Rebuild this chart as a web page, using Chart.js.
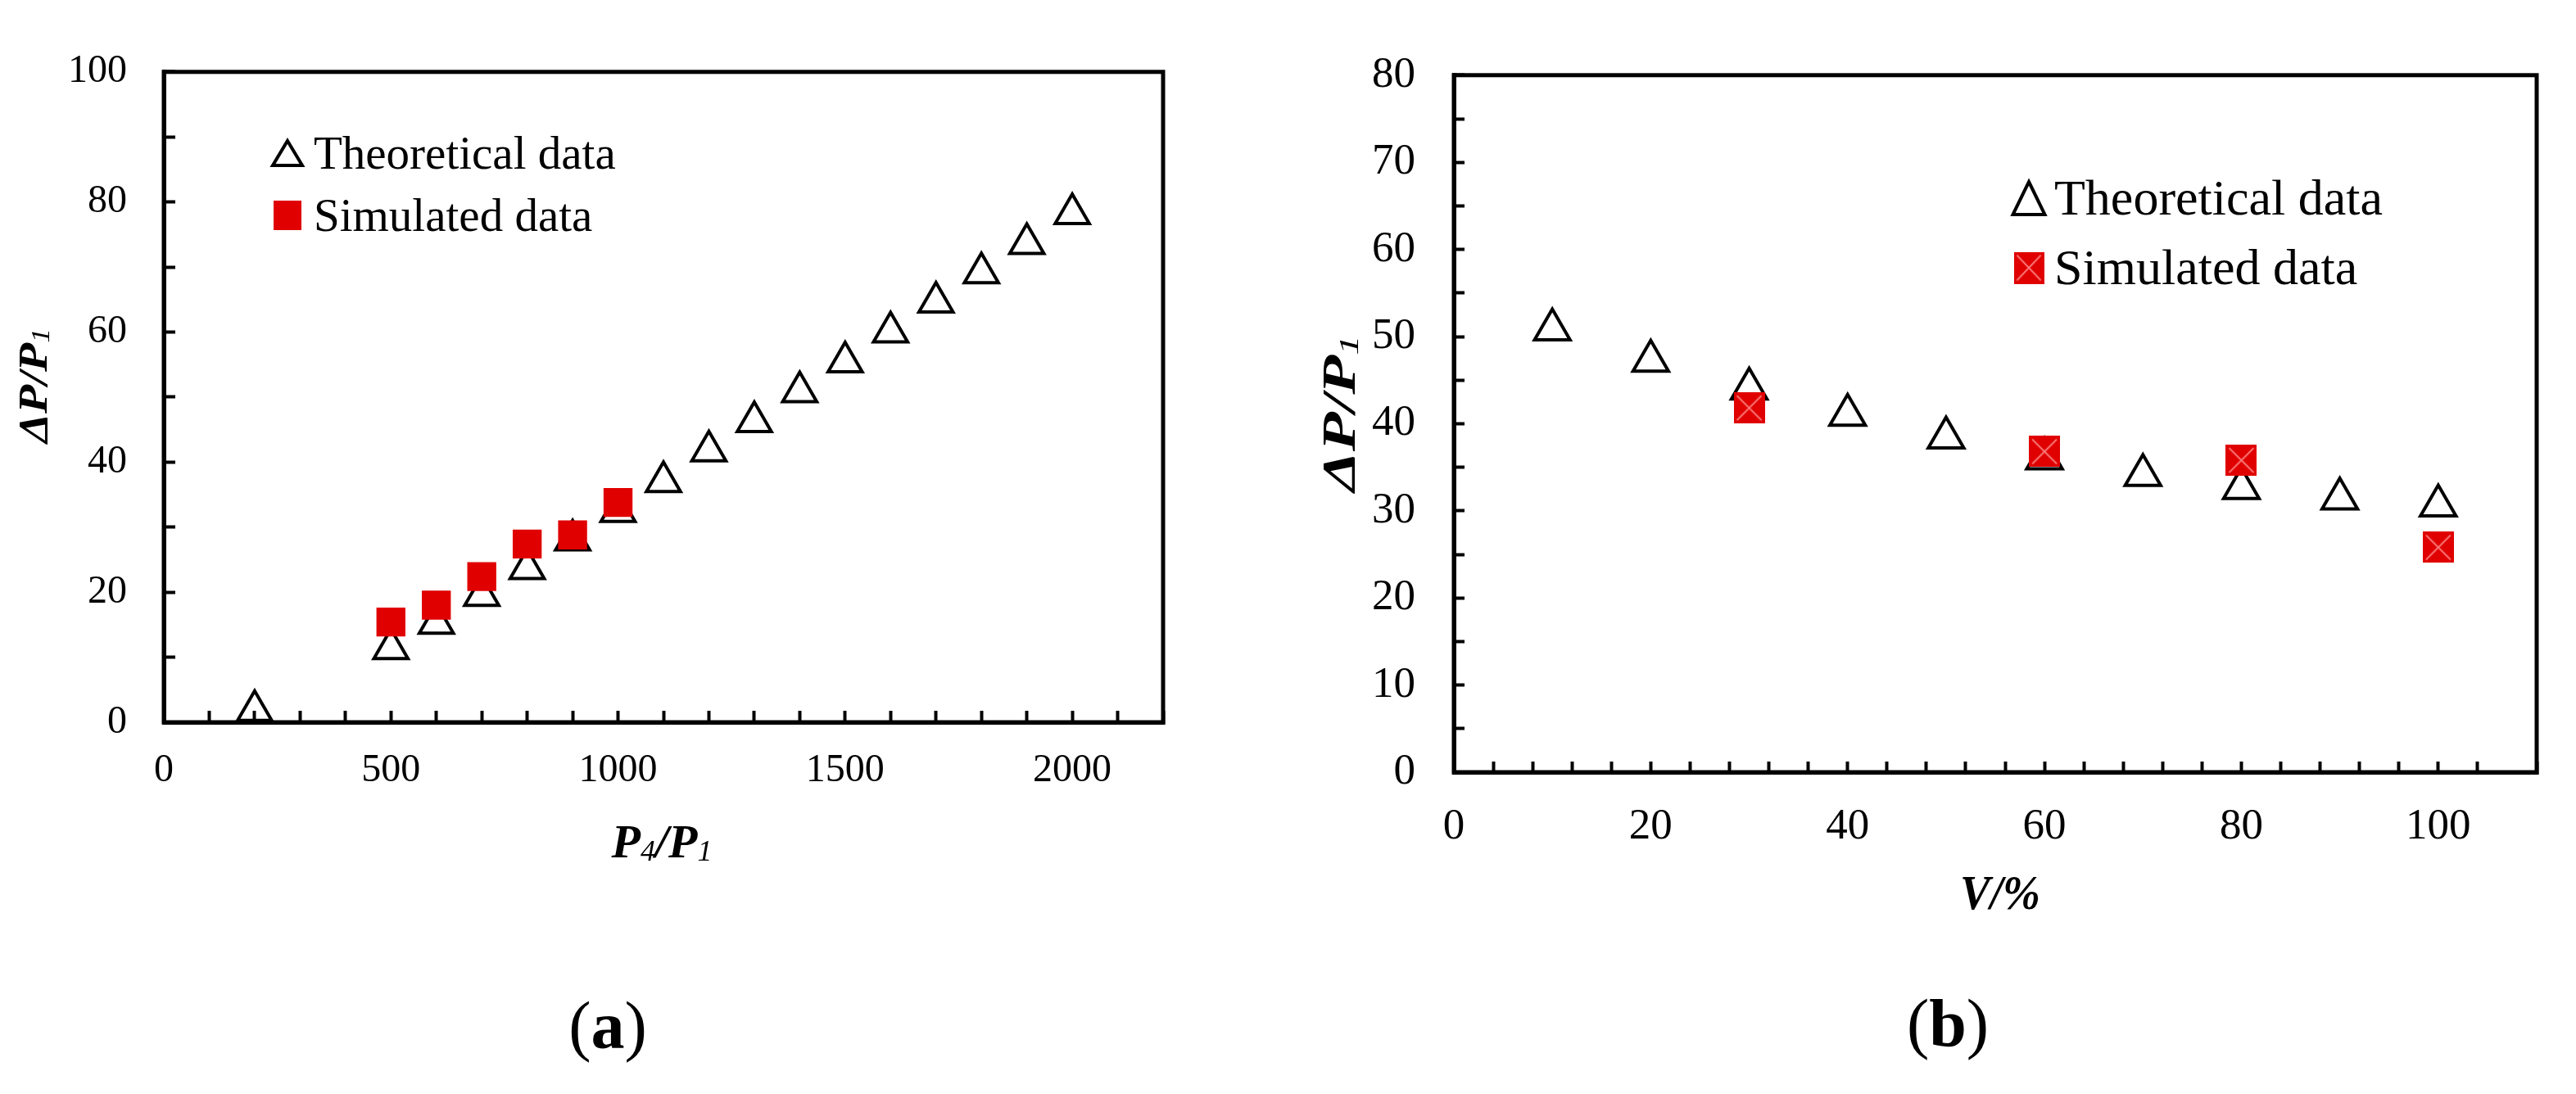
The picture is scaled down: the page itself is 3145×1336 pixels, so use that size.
<!DOCTYPE html>
<html>
<head>
<meta charset="utf-8">
<script src="https://cdn.jsdelivr.net/npm/chart.js@4.4.0/dist/chart.umd.min.js"></script>
<style>
html, body { margin: 0; padding: 0; background: #fff; }
body { width: 3145px; height: 1336px; position: relative; overflow: hidden; }
canvas { position: absolute; top: 0; }
#chartA { left: 0; }
#chartB { left: 1560px; }
</style>
</head>
<body>
<canvas id="chartA" width="1560" height="1336"></canvas>
<canvas id="chartB" width="1585" height="1336"></canvas>
<script>
// (a) pressure ratio
var ratioA = [200, 500, 600, 700, 800, 900, 1000, 1100, 1200, 1300, 1400, 1500, 1600, 1700, 1800, 1900, 2000];
var theoreticalA = [1.8, 11.3, 15.2, 19.5, 23.6, 28.0, 32.4, 37.0, 41.7, 46.2, 50.8, 55.4, 60.0, 64.6, 69.1, 73.6, 78.2];
var simRatioA = [500, 600, 700, 800, 900, 1000];
var simulatedA = [15.4, 18.0, 22.4, 27.4, 28.8, 33.8];
var xLabelsA = [0, 500, 1000, 1500, 2000];
var yLabelsA = [0, 20, 40, 60, 80, 100];

// (b) volume
var volumeB = [10, 20, 30, 40, 50, 60, 70, 80, 90, 100];
var theoreticalB = [50.8, 47.2, 44.0, 41.0, 38.4, 36.0, 34.1, 32.6, 31.4, 30.6];
var simVolumeB = [30, 60, 80, 100];
var simulatedB = [41.8, 36.8, 35.8, 25.8];
var xLabelsB = [0, 20, 40, 60, 80, 100];
var yLabelsB = [0, 10, 20, 30, 40, 50, 60, 70, 80];

var SERIF = '"Liberation Serif", "Times New Roman", serif';
var RED = '#e00000';

function pts(xs, ys) {
  return xs.map(function (x, i) { return { x: x, y: ys[i] }; });
}

// red square with a faint cross, used as point style in (b)
function crossSquare(size) {
  var c = document.createElement('canvas');
  c.width = size; c.height = size;
  var g = c.getContext('2d');
  g.fillStyle = RED;
  g.fillRect(0, 0, size, size);
  g.strokeStyle = 'rgba(255,150,150,0.8)';
  g.lineWidth = 2;
  g.beginPath();
  g.moveTo(4, 4); g.lineTo(size - 4, size - 4);
  g.moveTo(size - 4, 4); g.lineTo(4, size - 4);
  g.stroke();
  return c;
}
var crossMark = crossSquare(38);

function axis(min, max, step, labels, fontSize, tickLen, pad, fitSize, horizontal) {
  return {
    type: 'linear',
    min: min,
    max: max,
    ticks: {
      stepSize: step,
      autoSkip: false,
      maxRotation: 0,
      padding: pad,
      color: '#000',
      font: { family: SERIF, size: fontSize },
      callback: function (v) { return labels.indexOf(v) >= 0 ? String(v) : ''; }
    },
    grid: {
      drawOnChartArea: false,
      drawTicks: true,
      tickLength: tickLen,
      tickWidth: 4,
      tickColor: '#000'
    },
    border: { display: true, color: '#000', width: 5 },
    afterFit: function (scale) {
      if (horizontal) scale.height = fitSize; else scale.width = fitSize;
    }
  };
}

function drawRich(ctx, cx, cy, runs, size, angle, stretch) {
  ctx.save();
  ctx.translate(cx, cy);
  ctx.rotate(angle);
  ctx.scale(stretch, 1);
  ctx.fillStyle = '#000';
  ctx.textBaseline = 'alphabetic';
  ctx.textAlign = 'left';
  var total = 0;
  runs.forEach(function (r) {
    var s = r.sub ? size * 0.62 : size;
    r.font = (r.italic ? 'italic ' : '') + (r.bold ? 'bold ' : '') + s + 'px ' + SERIF;
    ctx.font = r.font;
    r.w = ctx.measureText(r.t).width;
    total += r.w;
  });
  var x = -total / 2;
  runs.forEach(function (r) {
    ctx.font = r.font;
    ctx.fillText(r.t, x, size * 0.33 + (r.sub ? size * 0.06 : 0));
    x += r.w;
  });
  ctx.restore();
}

function legendTriangle(ctx, x, y, w, h) {
  ctx.save();
  ctx.strokeStyle = '#000';
  ctx.lineWidth = 4;
  ctx.lineJoin = 'miter';
  ctx.beginPath();
  ctx.moveTo(x, y - h / 2);
  ctx.lineTo(x + w / 2, y + h / 2);
  ctx.lineTo(x - w / 2, y + h / 2);
  ctx.closePath();
  ctx.stroke();
  ctx.restore();
}

function decor(cfg) {
  return {
    id: 'decor',
    afterDraw: function (chart) {
      var ctx = chart.ctx;
      var a = chart.chartArea;
      ctx.save();
      ctx.strokeStyle = '#000';
      ctx.lineWidth = 5;
      ctx.strokeRect(a.left, a.top, a.right - a.left, a.bottom - a.top);
      ctx.restore();

      drawRich(ctx, cfg.yTitle.x, cfg.yTitle.y, cfg.yTitle.runs, cfg.yTitle.size, -Math.PI / 2, cfg.yTitle.stretch);
      drawRich(ctx, cfg.xTitle.x, cfg.xTitle.y, cfg.xTitle.runs, cfg.xTitle.size, 0, cfg.xTitle.stretch);
      drawRich(ctx, cfg.caption.x, cfg.caption.y, cfg.caption.runs, cfg.caption.size, 0, 1);

      var L = cfg.legend;
      legendTriangle(ctx, L.mx, L.y1, L.tw, L.th);
      if (L.cross) {
        ctx.drawImage(crossMark, L.mx - L.sw / 2, L.y2 - L.sh / 2, L.sw, L.sh);
      } else {
        ctx.fillStyle = RED;
        ctx.fillRect(L.mx - L.sw / 2, L.y2 - L.sh / 2, L.sw, L.sh);
      }
      ctx.fillStyle = '#000';
      ctx.textAlign = 'left';
      ctx.textBaseline = 'alphabetic';
      ctx.font = L.size + 'px ' + SERIF;
      ctx.fillText('Theoretical data', L.tx, L.y1 + L.size * 0.33);
      ctx.fillText('Simulated data', L.tx, L.y2 + L.size * 0.33);
    }
  };
}

new Chart(document.getElementById('chartA'), {
  type: 'scatter',
  data: {
    datasets: [{
      label: 'Simulated data',
      data: pts(simRatioA, simulatedA),
      pointStyle: 'rect',
      pointRadius: 25,
      pointHoverRadius: 25,
      backgroundColor: RED,
      borderColor: RED,
      borderWidth: 0,
      order: 0
    }, {
      label: 'Theoretical data',
      data: pts(ratioA, theoreticalA),
      pointStyle: 'triangle',
      pointRadius: 24,
      pointHoverRadius: 24,
      backgroundColor: 'rgba(0,0,0,0)',
      borderColor: '#000',
      borderWidth: 4,
      order: 1
    }]
  },
  options: {
    responsive: false,
    animation: false,
    events: [],
    layout: { padding: { left: 0, top: 44, right: 140, bottom: 0 } },
    plugins: { legend: { display: false }, tooltip: { enabled: false } },
    scales: {
      x: axis(0, 2200, 100, xLabelsA, 48, -14, 45, 1336 - 882, true),
      y: axis(0, 100, 10, yLabelsA, 48, -14, 59, 200, false)
    }
  },
  plugins: [decor({
    yTitle: { x: 40, y: 471, size: 50, stretch: 1.15, runs: [{ t: 'ΔP/P', italic: true, bold: true }, { t: '1', italic: true, sub: true }] },
    xTitle: { x: 808, y: 1028, size: 58, stretch: 1, runs: [{ t: 'P', italic: true, bold: true }, { t: '4', italic: true, sub: true }, { t: '/P', italic: true, bold: true }, { t: '1', italic: true, sub: true }] },
    caption: { x: 742, y: 1253, size: 82, runs: [{ t: '(' }, { t: 'a', bold: true }, { t: ')' }] },
    legend: { mx: 351, tw: 36, th: 30, sw: 34, sh: 36, y1: 187, y2: 263, tx: 383, size: 57, cross: false }
  })]
});

new Chart(document.getElementById('chartB'), {
  type: 'scatter',
  data: {
    datasets: [{
      label: 'Simulated data',
      data: pts(simVolumeB, simulatedB),
      pointStyle: crossMark,
      pointRadius: 19,
      pointHoverRadius: 19,
      backgroundColor: RED,
      borderColor: RED,
      order: 0
    }, {
      label: 'Theoretical data',
      data: pts(volumeB, theoreticalB),
      pointStyle: 'triangle',
      pointRadius: 25,
      pointHoverRadius: 25,
      backgroundColor: 'rgba(0,0,0,0)',
      borderColor: '#000',
      borderWidth: 4,
      order: 1
    }]
  },
  options: {
    responsive: false,
    animation: false,
    events: [],
    layout: { padding: { left: 0, top: 60, right: 33, bottom: 0 } },
    plugins: { legend: { display: false }, tooltip: { enabled: false } },
    scales: {
      x: axis(0, 110, 4, xLabelsB, 53, -13, 48, 1336 - 943, true),
      y: axis(0, 80, 5, yLabelsB, 53, -13, 60, 215, false)
    }
  },
  plugins: [decor({
    yTitle: { x: 76, y: 505, size: 56, stretch: 1.4, runs: [{ t: 'ΔP/P', italic: true, bold: true }, { t: '1', italic: true, sub: true }] },
    xTitle: { x: 882, y: 1090, size: 60, stretch: 0.92, runs: [{ t: 'V/%', italic: true, bold: true }] },
    caption: { x: 818, y: 1250, size: 82, runs: [{ t: '(' }, { t: 'b', bold: true }, { t: ')' }] },
    legend: { mx: 917, tw: 39, th: 40, sw: 37, sh: 39, y1: 242, y2: 327, tx: 948, size: 62, cross: true }
  })]
});
</script>
</body>
</html>
